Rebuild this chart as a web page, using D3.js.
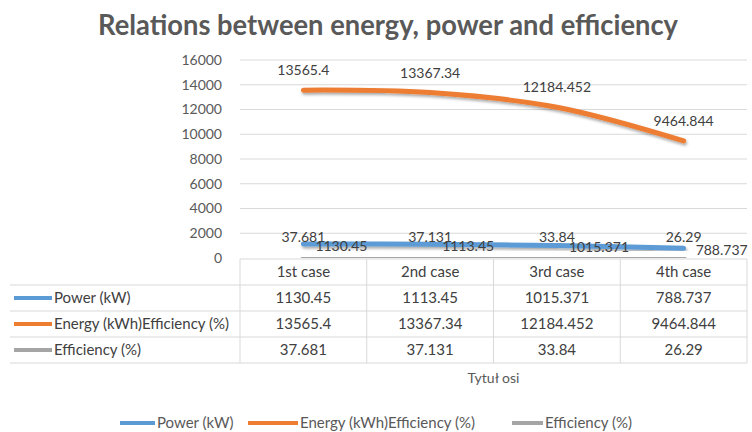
<!DOCTYPE html>
<html><head><meta charset="utf-8">
<script src="https://cdn.jsdelivr.net/npm/d3@7"></script>
<style>
body{margin:0;background:#fff;}
svg{display:block;font-family:Lato,"Open Sans",sans-serif;}
</style></head>
<body><div id="chart"></div>
<script>
const title = "Relations between energy, power and efficiency";
const categories = ["1st case","2nd case","3rd case","4th case"];
const seriesNames = ["Power (kW)","Energy (kWh)Efficiency (%)","Efficiency (%)"];
const power = [1130.45,1113.45,1015.371,788.737];
const energy = [13565.4,13367.34,12184.452,9464.844];
const efficiency = [37.681,37.131,33.84,26.29];
const yTicks = [0,2000,4000,6000,8000,10000,12000,14000,16000];
const axisTitle = "Tytuł osi";
const colors = ["#5B9BD5","#ED7D31","#A5A5A5"];

const W=752,H=432;
const svg=d3.select("#chart").append("svg").attr("width",W).attr("height",H);
const defs=svg.append("defs");
const f=defs.append("filter").attr("id","sh").attr("x","-10%").attr("y","-50%").attr("width","120%").attr("height","200%");
f.append("feDropShadow").attr("dx",1).attr("dy",2).attr("stdDeviation",1.5).attr("flood-color","#000").attr("flood-opacity",0.35);

const plotL=240, plotR=747, plotT=60, plotB=258;
const x=d3.scaleBand().domain(categories).range([plotL,plotR]);
const y=d3.scaleLinear().domain([0,16000]).range([plotB,plotT]);
const cx=c=>x(c)+x.bandwidth()/2;

svg.append("text").attr("x",388).attr("y",35).attr("text-anchor","middle")
  .attr("font-size",28).attr("font-weight","bold").attr("fill","#595959")
  .attr("textLength",580).attr("lengthAdjust","spacingAndGlyphs").text(title);

// gridlines
svg.append("g").selectAll("line").data(yTicks.filter(d=>d>0)).join("line")
  .attr("x1",plotL).attr("x2",plotR).attr("y1",d=>y(d)).attr("y2",d=>y(d))
  .attr("stroke","#D9D9D9").attr("stroke-width",1);

// y axis labels
const yAxis=d3.axisLeft(y).tickValues(yTicks).tickSize(0).tickPadding(0).tickFormat(d3.format("d"));
const ga=svg.append("g").attr("transform",`translate(222,0)`).call(yAxis);
ga.select(".domain").remove();
ga.selectAll("text").attr("font-size",14).attr("fill","#595959").attr("font-family","Lato,sans-serif");

// lines
const all=[power,energy,efficiency];
const line=d3.line().x((d,i)=>cx(categories[i])).y(d=>y(d)).curve(d3.curveCatmullRom.alpha(0.5));
[efficiency,power,energy].forEach(s=>{
  const k=all.indexOf(s);
  svg.append("path").datum(s).attr("d",line).attr("fill","none")
    .attr("stroke",colors[k]).attr("stroke-width",5).attr("stroke-linecap","round")
    .attr("filter","url(#sh)");
});

// data labels
const lab=svg.append("g").attr("font-size",14).attr("fill","#404040");
energy.forEach((v,i)=>{
  lab.append("text").attr("x",cx(categories[i])).attr("y",y(v)-15).attr("text-anchor","middle").text(String(v));
});
efficiency.forEach((v,i)=>{
  lab.append("text").attr("x",cx(categories[i])).attr("y",y(v)-16).attr("text-anchor","middle").text(String(v));
});
power.forEach((v,i)=>{
  lab.append("text").attr("x",cx(categories[i])+12).attr("y",y(v)+7).attr("text-anchor","start").text(String(v));
});

// data table
const tL=10, rowH=26, tT=259;
const tg=svg.append("g");
const lc="#D9D9D9";
tg.append("line").attr("x1",plotL).attr("x2",plotR).attr("y1",tT).attr("y2",tT).attr("stroke",lc);
for(let r=1;r<=4;r++){
  tg.append("line").attr("x1",tL).attr("x2",plotR).attr("y1",tT+r*rowH).attr("y2",tT+r*rowH).attr("stroke",lc);
}
const vx=[plotL,...categories.map(c=>x(c)+x.bandwidth())];
vx.forEach(v=>tg.append("line").attr("x1",v).attr("x2",v).attr("y1",tT).attr("y2",tT+4*rowH).attr("stroke",lc));
categories.forEach(c=>{
  tg.append("text").attr("x",cx(c)).attr("y",tT+rowH/2+5).attr("text-anchor","middle")
    .attr("font-size",15).attr("fill","#404040").text(c);
});
all.forEach((s,k)=>{
  const ry=tT+(k+1)*rowH+rowH/2;
  tg.append("line").attr("x1",14).attr("x2",52).attr("y1",ry).attr("y2",ry)
    .attr("stroke",colors[k]).attr("stroke-width",4);
  tg.append("text").attr("x",54).attr("y",ry+5).attr("font-size",15).attr("fill","#404040").text(seriesNames[k]);
  s.forEach((v,i)=>{
    tg.append("text").attr("x",cx(categories[i])).attr("y",ry+5).attr("text-anchor","middle")
      .attr("font-size",15).attr("fill","#404040").text(String(v));
  });
});

svg.append("text").attr("x",(plotL+plotR)/2).attr("y",383).attr("text-anchor","middle")
  .attr("font-size",14).attr("fill","#595959").text(axisTitle);

// legend
const legX=[120,248,512], legW=[35,50,31];
seriesNames.forEach((n,k)=>{
  const g=svg.append("g");
  g.append("line").attr("x1",legX[k]).attr("x2",legX[k]+legW[k]).attr("y1",423).attr("y2",423)
    .attr("stroke",colors[k]).attr("stroke-width",4);
  g.append("text").attr("x",legX[k]+legW[k]+2).attr("y",428).attr("font-size",15).attr("fill","#595959").text(n);
});
</script></body></html>
